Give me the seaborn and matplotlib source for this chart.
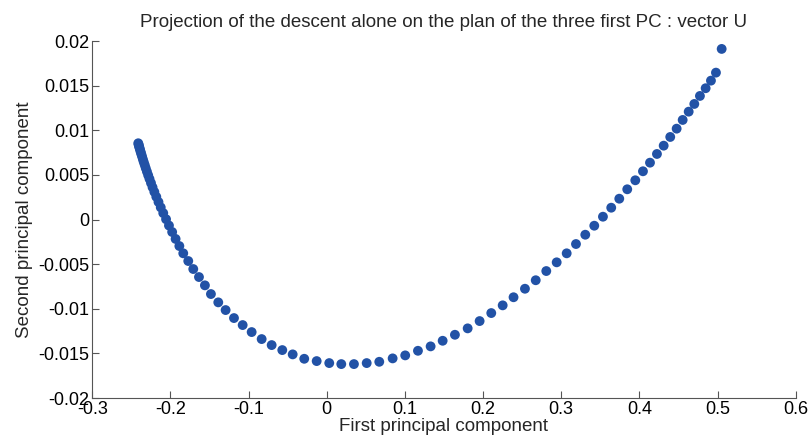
import matplotlib
matplotlib.use("Agg")
import matplotlib.pyplot as plt
import seaborn as sns
import pandas as pd

pc1 = [-0.2412, -0.2407, -0.2402, -0.2396, -0.2389, -0.2381, -0.2373, -0.2363, -0.2353, -0.2342,
       -0.2329, -0.2316, -0.2301, -0.2285, -0.2268, -0.2249, -0.2229, -0.2206, -0.2181, -0.2153,
       -0.2124, -0.2092, -0.2056, -0.2019, -0.1978, -0.1934, -0.1886,
       -0.1836, -0.1772, -0.1708, -0.1635, -0.1559, -0.1482, -0.1388, -0.1294, -0.1187, -0.1076,
       -0.0961, -0.0833, -0.0705, -0.0569, -0.0436, -0.0288, -0.0129, 0.0032, 0.0186, 0.0348,
       0.0511, 0.0672, 0.0843, 0.1004, 0.1167, 0.1329, 0.1483, 0.1640, 0.1803, 0.1956,
       0.2105, 0.2251, 0.2390, 0.2536, 0.2674, 0.2809, 0.2942, 0.3070, 0.3189, 0.3308,
       0.3423, 0.3534, 0.3640, 0.3743, 0.3845, 0.3948, 0.4046, 0.4136, 0.4225, 0.4311,
       0.4395, 0.4477, 0.4554, 0.4631, 0.4703, 0.4775, 0.4848, 0.4916, 0.4980, 0.5053]

pc2 = [0.008543, 0.008386, 0.008217, 0.008027, 0.007814, 0.007578, 0.007332, 0.007052, 0.006760, 0.006446,
       0.006110, 0.005751, 0.005370, 0.004966, 0.004552, 0.004092, 0.003610, 0.003094, 0.002545, 0.001962,
       0.001357, 0.000717, 0.000034, -0.000673, -0.001401, -0.002175, -0.002971,
       -0.003789, -0.004652, -0.005549, -0.006446, -0.007377, -0.008352, -0.009283, -0.010146, -0.011043, -0.011827,
       -0.012612, -0.013397, -0.014070, -0.014630, -0.015112, -0.015605, -0.015863, -0.016087, -0.016200, -0.016200,
       -0.016087, -0.015942, -0.015561, -0.015224, -0.014709, -0.014215, -0.013587, -0.012915, -0.012197, -0.011379,
       -0.010482, -0.009619, -0.008711, -0.007758, -0.006805, -0.005774, -0.004798, -0.003789, -0.002747, -0.001704,
       -0.000695, 0.000314, 0.001323, 0.002332, 0.003386, 0.004395, 0.005404, 0.006368, 0.007343, 0.008274,
       0.009249, 0.010179, 0.011155, 0.012085, 0.012948, 0.013845, 0.014709, 0.015561, 0.016457, 0.019114]

xticks = [-0.3, -0.2, -0.1, 0, 0.1, 0.2, 0.3, 0.4, 0.5, 0.6]
xtick_labels = ["-0.3", "-0.2", "-0.1", "0", "0.1", "0.2", "0.3", "0.4", "0.5", "0.6"]
yticks = [-0.02, -0.015, -0.01, -0.005, 0, 0.005, 0.01, 0.015, 0.02]
ytick_labels = ["-0.02", "-0.015", "-0.01", "-0.005", "0", "0.005", "0.01", "0.015", "0.02"]

df = pd.DataFrame({"pc1": pc1, "pc2": pc2})

sns.set_theme(style="ticks")
plt.rcParams["font.family"] = ["Liberation Sans", "DejaVu Sans"]

fig = plt.figure(figsize=(8.11, 4.41), dpi=100)
ax = fig.add_axes([0.1138, 0.0975, 0.9811 - 0.1138, 0.907 - 0.0975])

sns.scatterplot(data=df, x="pc1", y="pc2", ax=ax, color="#2252A6", s=50,
                edgecolor="none", linewidth=0, legend=False)

ax.set_xlim(-0.3, 0.6)
ax.set_ylim(-0.02, 0.02)
ax.set_xticks(xticks)
ax.set_xticklabels(xtick_labels)
ax.set_yticks(yticks)
ax.set_yticklabels(ytick_labels)
ax.tick_params(direction="in", length=5, width=0.8, colors="#555555",
               labelcolor="black", labelsize=13, pad=2)
for side in ["top", "right"]:
    ax.spines[side].set_visible(False)
for side in ["left", "bottom"]:
    ax.spines[side].set_color("#555555")
    ax.spines[side].set_linewidth(0.8)

ax.set_xlabel("First principal component", fontsize=13.5, labelpad=0)
ax.set_ylabel("Second principal component", fontsize=13.5, labelpad=4)
ax.set_title("Projection of the descent alone on the plan of the three first PC : vector U",
             fontsize=13.5, pad=10)

fig.savefig("out.png", dpi=100)
